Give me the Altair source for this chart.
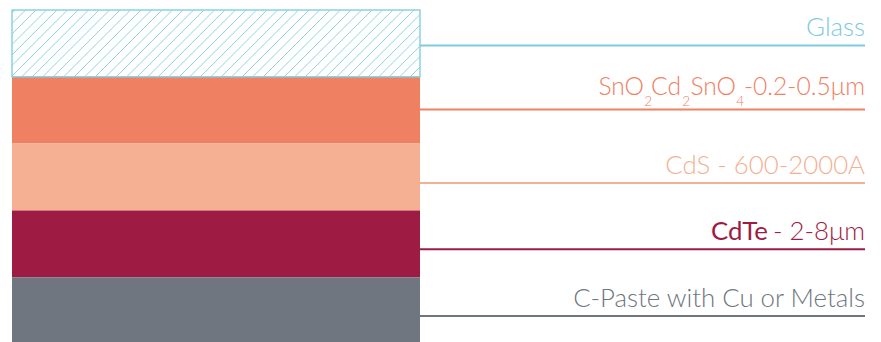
import altair as alt
import pandas as pd

# ---- data ----
layers = ["Glass", "SnO2Cd2SnO4", "CdS", "CdTe", "C-Paste"]
layer_colors = ["#ffffff", "#f08062", "#f5af92", "#9e1b43", "#6f7680"]
line_colors = ["#7ccbe0", "#f08062", "#f5af92", "#9e1b43", "#6f7680"]
# vertical position of the leader line, in layer units (0 = top of stack)
line_pos = [0.53, 1.49, 2.59, 3.58, 4.58]
labels = ["Glass", "", "CdS - 600-2000A", " - 2-8μm", "C-Paste with Cu or Metals"]
bold_label = "CdTe"
# chemical formula label, split into normal and subscript pieces
formula_parts = ["SnO", "2", "Cd", "2", "SnO", "4", "-0.2-0.5μm"]
formula_sub = [False, True, False, True, False, True, False]

# ---- layout constants ----
W_PX = 853.0      # plot width in px
H_PX = 334.0      # plot height in px
STACK_PX = 408.0  # stack width in px
LAYER_PX = H_PX / 5
STACK_FRAC = STACK_PX / W_PX
FONT = "Lato"
FS = 25.8
FS_F = 24.6
SUB_FS = 13.5
# right edge of each formula piece, px to the left of the label anchor
formula_right_px = [221, 213, 184, 175, 129, 121, 0]

df = pd.DataFrame({
    "layer": layers,
    "y": list(range(5)),
    "y2": [i + 1 for i in range(5)],
    "fill": layer_colors,
    "lcolor": line_colors,
    "ly": line_pos,
    "label": labels,
})

fdf = pd.DataFrame({
    "part": formula_parts,
    "sub": formula_sub,
    "rpx": formula_right_px,
    "ly": [line_pos[1]] * len(formula_parts),
})

xs = alt.Scale(domain=[0, 1], nice=False, zero=False)
ys = alt.Scale(domain=[0, 5], nice=False, zero=False, reverse=True)

base = alt.Chart(df)

rects = base.mark_rect(strokeWidth=0).encode(
    x=alt.X("x0:Q", scale=xs, axis=None),
    x2="x1:Q",
    y=alt.Y("y:Q", scale=ys, axis=None),
    y2="y2:Q",
    fill=alt.Fill("fill:N", scale=None),
).transform_calculate(x0="0", x1=str(STACK_FRAC))

# hatch lines in the glass layer
SP = 10.5
hatch = alt.Chart(alt.sequence(0, int((STACK_PX + LAYER_PX) / SP) + 2, 1, as_="k")).mark_rule(
    color="#8fd4e6", strokeWidth=1
).transform_calculate(
    c=f"-{LAYER_PX} + datum.k * {SP} + 3",
).transform_calculate(
    xs_px="max(datum.c, 0)",
    xe_px=f"min(datum.c + {LAYER_PX}, {STACK_PX})",
).transform_filter(
    "datum.xe_px > datum.xs_px"
).transform_calculate(
    xa=f"datum.xs_px / {W_PX}",
    xb=f"datum.xe_px / {W_PX}",
    ya=f"1 - (datum.xs_px - datum.c) / {LAYER_PX}",
    yb=f"1 - (datum.xe_px - datum.c) / {LAYER_PX}",
).encode(
    x=alt.X("xa:Q", scale=xs, axis=None),
    x2="xb:Q",
    y=alt.Y("ya:Q", scale=ys, axis=None),
    y2="yb:Q",
)

glass_border = base.transform_filter("datum.y == 0").mark_rect(
    fill="transparent", stroke="#8ad2e4", strokeWidth=1.5
).encode(
    x=alt.X("x0:Q", scale=xs, axis=None),
    x2="x1:Q",
    y=alt.Y("y:Q", scale=ys, axis=None),
    y2="y2:Q",
).transform_calculate(x0="0", x1=str(STACK_FRAC))

leaders = base.mark_rule(strokeWidth=2).encode(
    x=alt.X("x0:Q", scale=xs, axis=None),
    x2="x1:Q",
    y=alt.Y("ly:Q", scale=ys, axis=None),
    color=alt.Color("lcolor:N", scale=None),
).transform_calculate(x0=str(STACK_FRAC), x1="1")

texts = base.transform_filter("datum.label != ''").mark_text(
    align="right", baseline="alphabetic", font=FONT, fontSize=FS, fontWeight=300, dy=-9
).encode(
    x=alt.X("x1:Q", scale=xs, axis=None),
    y=alt.Y("ly:Q", scale=ys, axis=None),
    text="label:N",
    color=alt.Color("lcolor:N", scale=None),
).transform_calculate(x1="1")

bold = base.transform_filter("datum.y == 3").mark_text(
    align="right", baseline="alphabetic", font=FONT, fontSize=FS, fontWeight=400, dy=-9, dx=-97
).encode(
    x=alt.X("x1:Q", scale=xs, axis=None),
    y=alt.Y("ly:Q", scale=ys, axis=None),
    text=alt.value(bold_label),
    color=alt.Color("lcolor:N", scale=None),
).transform_calculate(x1="1")

fbase = alt.Chart(fdf).transform_calculate(xr=f"1 - datum.rpx / {W_PX}")
formula_main = fbase.transform_filter("!datum.sub").mark_text(
    align="right", baseline="alphabetic", font=FONT, fontSize=FS_F, fontWeight=300,
    dy=-15, color=line_colors[1]
).encode(
    x=alt.X("xr:Q", scale=xs, axis=None),
    y=alt.Y("ly:Q", scale=ys, axis=None),
    text="part:N",
)
formula_subs = fbase.transform_filter("datum.sub").mark_text(
    align="right", baseline="alphabetic", font=FONT, fontSize=SUB_FS, fontWeight=300,
    dy=-4, color=line_colors[1]
).encode(
    x=alt.X("xr:Q", scale=xs, axis=None),
    y=alt.Y("ly:Q", scale=ys, axis=None),
    text="part:N",
)

chart = alt.layer(rects, hatch, glass_border, leaders, texts, bold, formula_main, formula_subs).properties(
    width=W_PX, height=H_PX,
    padding={"left": 4, "top": 2, "right": 0, "bottom": 0},
    autosize=alt.AutoSizeParams(type="none"),
).configure_view(stroke=None)

chart.save("out.html", embed_options={"renderer": "svg", "actions": False})
